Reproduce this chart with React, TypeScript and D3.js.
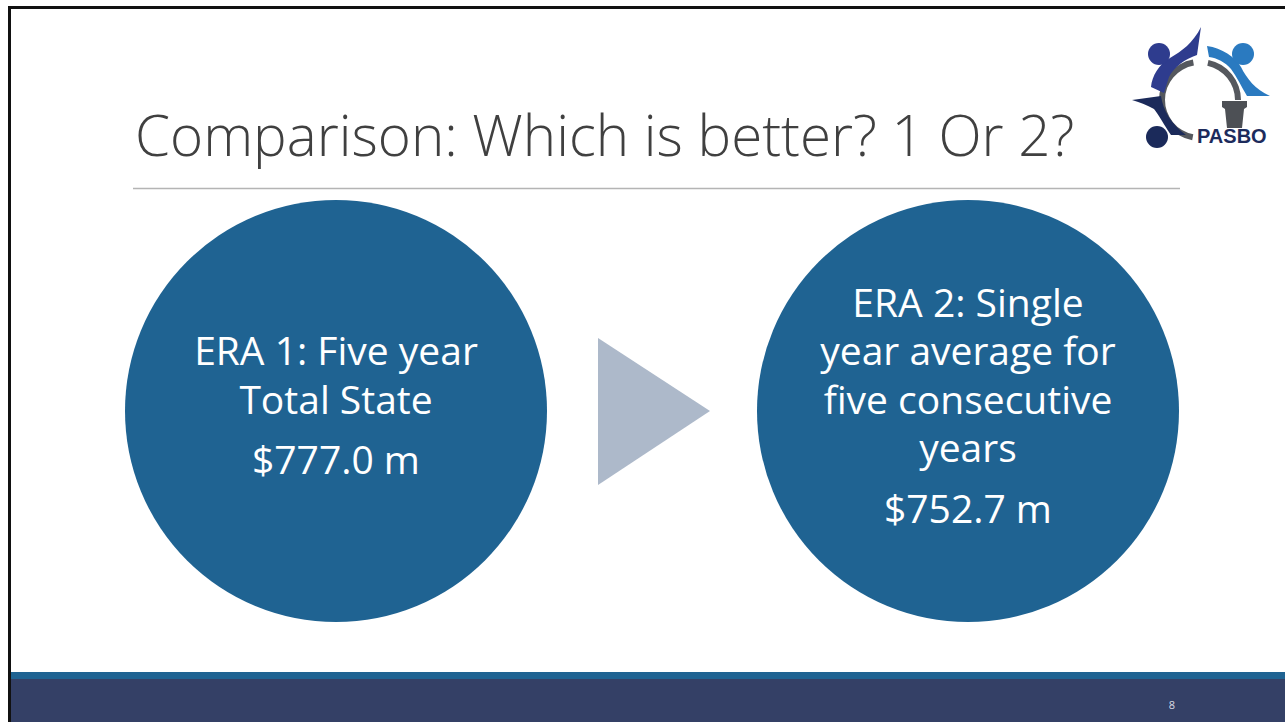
import React from "react";
import * as d3 from "d3";

// ---- data ----
const titleText = "Comparison: Which is better? 1 Or 2?";
const eras = ["ERA 1", "ERA 2"];
const eraDescriptions: string[][] = [
  ["ERA 1: Five year", "Total State"],
  ["ERA 2: Single", "year average for", "five consecutive", "years"],
];
const eraValues = [777.0, 752.7];
const pageNumber = "8";
const logoText = "PASBO";

// ---- layout ----
const W = 1285;
const H = 722;
const CY = 411;
const TEXT_CY = 406;
const R = 211;
const LINE_H = 48.5;
const VALUE_GAP = 60.5;
const BODY_SIZE = 39;
const CAP = BODY_SIZE * 0.714;
const FONT = "'Open Sans', 'Noto Sans', sans-serif";

const fmt = (v: number) => "$" + d3.format(".1f")(v) + " m";

export default function App() {
  React.useEffect(() => {
    document.body.style.margin = "0";
    document.body.style.overflow = "hidden";
  }, []);

  const x = d3.scalePoint<string>().domain(eras).range([336, 968]);
  const mid = ((x(eras[0]) as number) + (x(eras[1]) as number)) / 2;

  const triangle =
    d3.line()([
      [mid - 54, CY - 73],
      [mid + 58, CY],
      [mid - 54, CY + 74],
    ]) + "Z";

  const ringArc = d3.arc<any>().innerRadius(35).outerRadius(41);
  const deg = Math.PI / 180;

  return (
    <svg
      width={W}
      height={H}
      style={{ position: "absolute", left: 0, top: 0, display: "block" }}
    >
      <rect x={0} y={0} width={W} height={H} fill="#ffffff" />
      {/* border */}
      <rect x={8} y={6} width={W - 8} height={3} fill="#111" />
      <rect x={8} y={6} width={3} height={H - 6} fill="#111" />

      {/* title */}
      <text
        x={135}
        y={156}
        fontFamily={FONT}
        fontWeight={300}
        fontSize={56.5}
        fill="#404040"
      >
        {titleText}
      </text>
      <line x1={133} x2={1180} y1={188.5} y2={188.5} stroke="#b4b4b4" strokeWidth={1.5} />

      {/* circles */}
      {eras.map((era, i) => {
        const cx = x(era) as number;
        const lines = eraDescriptions[i];
        const span = CAP + (lines.length - 1) * LINE_H + VALUE_GAP;
        const first = TEXT_CY - span / 2 + CAP;
        return (
          <g key={era}>
            <circle cx={cx} cy={CY} r={R} fill="#1f6392" />
            {lines.map((ln, j) => (
              <text
                key={j}
                x={cx}
                y={first + j * LINE_H}
                textAnchor="middle"
                fontFamily={FONT}
                fontSize={BODY_SIZE}
                fill="#ffffff"
              >
                {ln}
              </text>
            ))}
            <text
              x={cx}
              y={first + (lines.length - 1) * LINE_H + VALUE_GAP}
              textAnchor="middle"
              fontFamily={FONT}
              fontSize={BODY_SIZE}
              fill="#ffffff"
            >
              {fmt(eraValues[i])}
            </text>
          </g>
        );
      })}

      {/* arrow */}
      <path d={triangle} fill="#adb9ca" />

      {/* footer */}
      <rect x={11} y={672} width={W - 11} height={7} fill="#1f6392" />
      <rect x={11} y={679} width={W - 11} height={H - 679} fill="#344066" />
      <text
        x={1172}
        y={709}
        textAnchor="middle"
        fontFamily={FONT}
        fontSize={11}
        fill="#d9dce4"
      >
        {pageNumber}
      </text>

      {/* logo */}
      <g>
        <g transform="translate(1200,100)" fill="#55585e">
          <path d={ringArc({ startAngle: 191 * deg, endAngle: 350 * deg }) as string} />
          <path d={ringArc({ startAngle: 12 * deg, endAngle: 90 * deg }) as string} />
        </g>
        <path
          d="M1201,27 L1197,55 C1185,59 1174,67 1169,77 L1164,93 L1151,87 C1152,76 1159,64 1170,58 C1182,51 1193,43 1201,27 Z"
          fill="#2e3c8e"
        />
        <circle cx={1159} cy={54} r={11} fill="#2e3c8e" />
        <path
          d="M1207,46 C1222,48 1235,57 1241,67 C1247,79 1255,89 1270,96 L1247,96 C1241,86 1237,77 1231,69 C1225,62 1217,58 1209,57 Z"
          fill="#2a7ac0"
        />
        <circle cx={1243} cy={54} r={11} fill="#2a7ac0" />
        <path
          d="M1132,100 L1161,96 C1163,110 1171,124 1186,135 L1171,135 C1164,125 1159,115 1154,109 C1147,105 1139,102 1132,100 Z"
          fill="#1b2a5a"
        />
        <circle cx={1157} cy={137} r={11} fill="#1b2a5a" />
        <path
          d="M1222,101 L1247,101 L1247,107 L1244,109 L1242,128 L1227,128 L1225,109 L1222,107 Z"
          fill="#4d5055"
        />
        <text
          x={1197}
          y={143}
          fontFamily="'Liberation Sans', Arial, sans-serif"
          fontWeight={700}
          fontSize={20}
          fill="#1d2b5c"
        >
          {logoText}
        </text>
      </g>
    </svg>
  );
}
